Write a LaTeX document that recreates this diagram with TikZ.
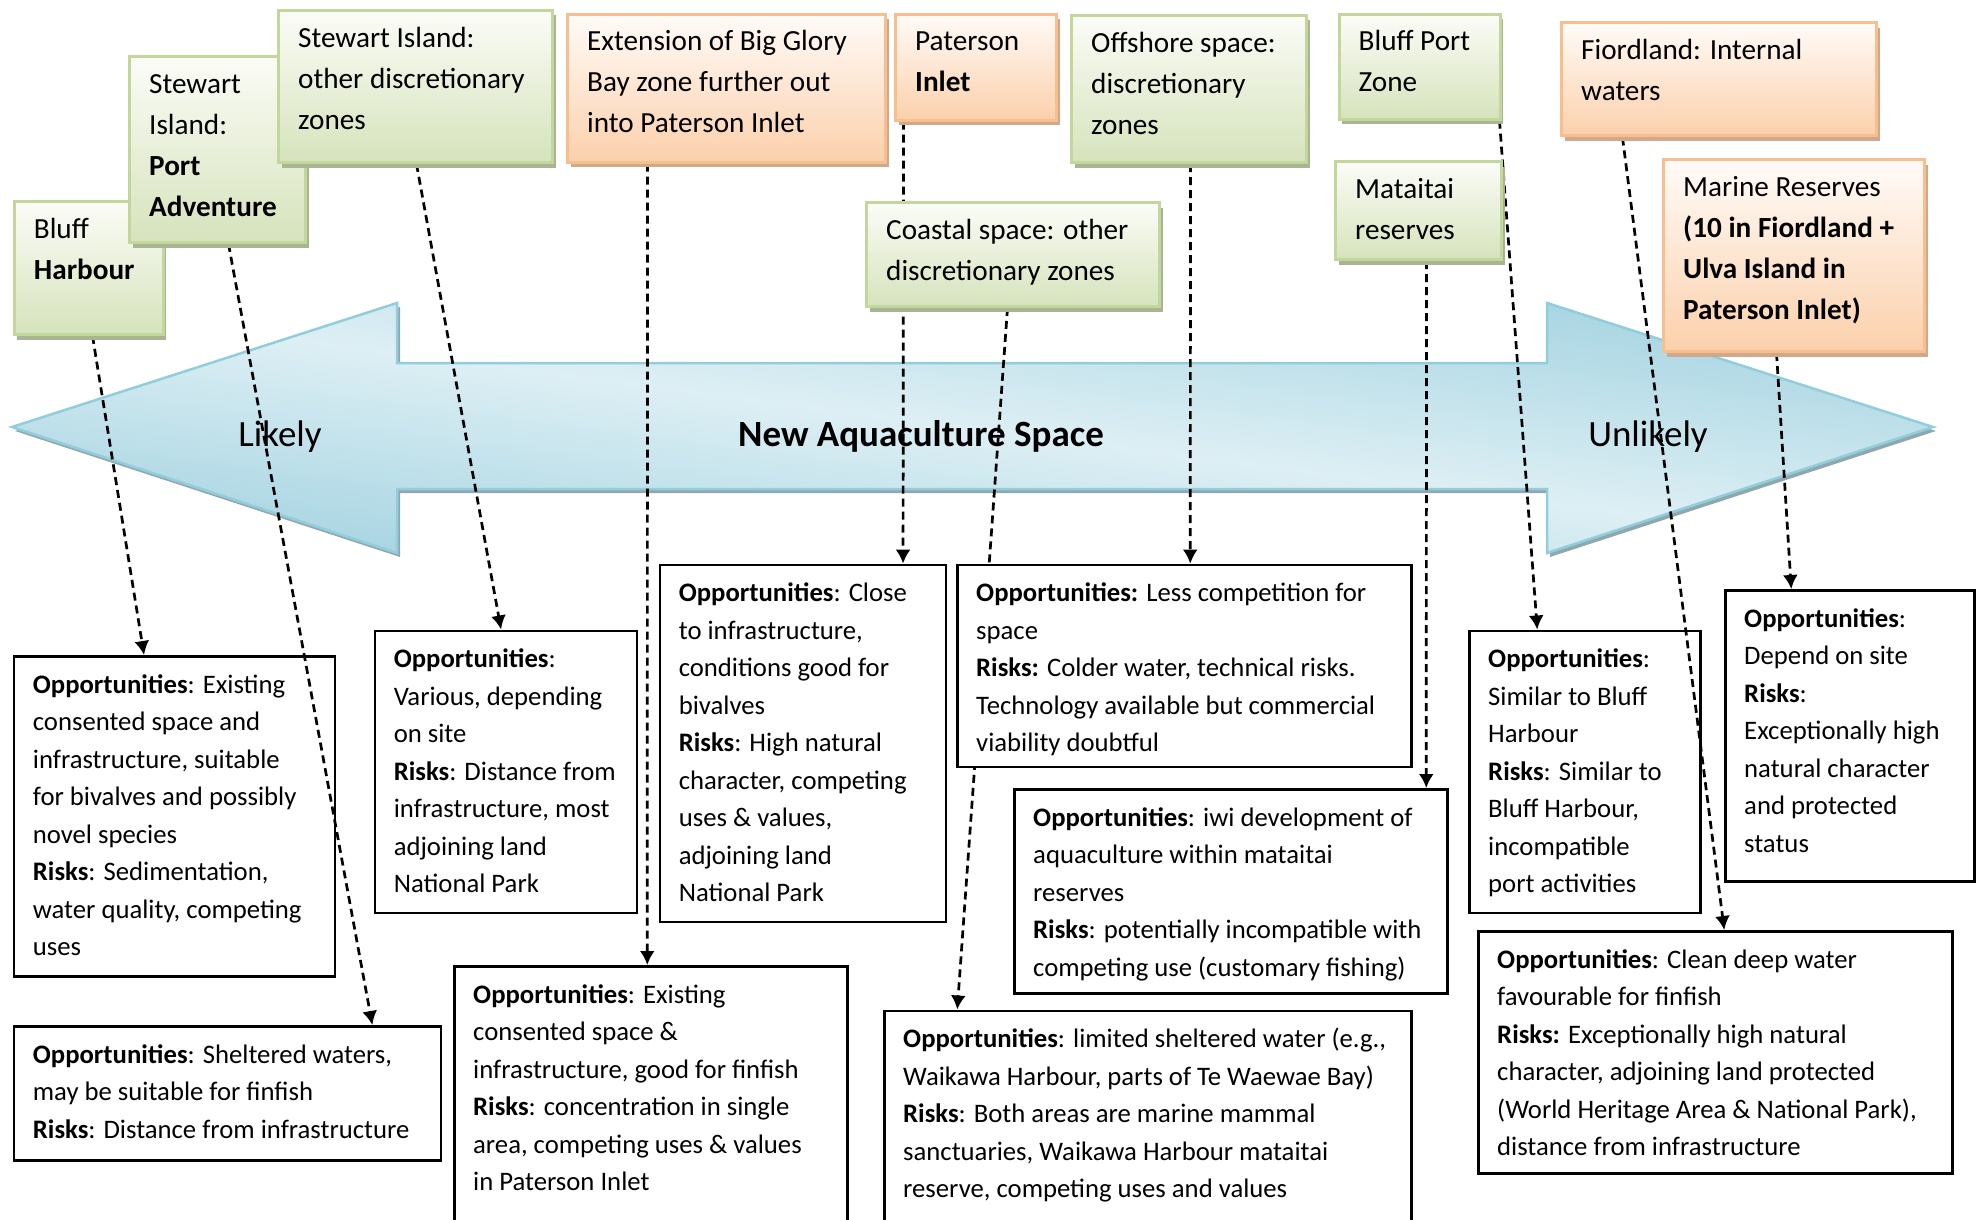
\documentclass[tikz,border=0pt]{standalone}
\usepackage{fontspec}
\setmainfont{Carlito}
\usetikzlibrary{arrows.meta,shadows}
\definecolor{grtop}{HTML}{FBFCF7}
\definecolor{grbot}{HTML}{D6E3BC}
\definecolor{grline}{HTML}{C3D69B}
\definecolor{grshadow}{HTML}{A8B592}
\definecolor{ortop}{HTML}{FFFBF8}
\definecolor{orbot}{HTML}{FBD0AB}
\definecolor{orline}{HTML}{F9BE8E}
\definecolor{orshadow}{HTML}{CFA98C}
\definecolor{arrlight}{HTML}{DDEFF4}
\definecolor{arrdark}{HTML}{9CCFDE}
\definecolor{arrline}{HTML}{92CDDC}
\definecolor{arrshadow}{HTML}{8FA8AF}
\pgfdeclarelayer{bg}
\pgfdeclarelayer{low}
\pgfdeclarelayer{conn}
\pgfdeclarelayer{mid}
\pgfsetlayers{bg,low,conn,mid,main}
\newcommand{\mybs}{\rule[-11pt]{0pt}{37.5pt}}
\newcommand{\myts}{\rule[-12pt]{0pt}{41pt}}
\begin{document}
\begin{tikzpicture}[x=1pt,y=-1pt,
  gbox/.style={draw=grline, line width=3pt, top color=grtop, bottom color=grbot, inner sep=0pt, anchor=north west,
    drop shadow={shadow xshift=3pt, shadow yshift=-5pt, fill=grshadow, opacity=1}},
  obox/.style={draw=orline, line width=3pt, top color=ortop, bottom color=orbot, inner sep=0pt, anchor=north west,
    drop shadow={shadow xshift=3pt, shadow yshift=-5pt, fill=orshadow, opacity=1}},
  bbox/.style={draw=black, line width=2.5pt, fill=white, inner sep=0pt, anchor=north west},
  ttext/.style={anchor=north west, inner sep=0pt, align=left, font=\fontsize{29.2}{41}\selectfont},
  btext/.style={anchor=north west, inner sep=0pt, align=left, font=\fontsize{26.7}{37.5}\selectfont},
  conn/.style={draw=black, line width=2.7pt, dash pattern=on 8pt off 5pt, -{Latex[length=14pt,width=15pt]}},
  alabel/.style={anchor=base, font=\fontsize{37}{44}\selectfont}
]
\useasboundingbox (0,0) rectangle (1986,1220);

% ---------- big double arrow ----------
\begin{pgfonlayer}{bg}
\path[fill=arrshadow, shift={(3,4)}] (12,427) -- (397,303) -- (397,363) -- (1547,363) -- (1547,303) -- (1933,427)
  -- (1547,553) -- (1547,489) -- (397,489) -- (397,553) -- cycle;
\begin{scope}
\clip (12,427) -- (397,303) -- (397,363) -- (1547,363) -- (1547,303) -- (1933,427)
  -- (1547,553) -- (1547,489) -- (397,489) -- (397,553) -- cycle;
\begin{scope}[transform canvas={cm={9.605,-1.25,9.605,1.25,(972.5pt,-428pt)}}]
\shade[top color=arrdark, bottom color=arrdark, middle color=arrlight] (-150pt,-100pt) rectangle (150pt,100pt);
\end{scope}
\end{scope}
\path[draw=arrline, line width=2.5pt]
  (12,427) -- (397,303) -- (397,363) -- (1547,363) -- (1547,303) -- (1933,427)
  -- (1547,553) -- (1547,489) -- (397,489) -- (397,553) -- cycle;
\node[alabel] (lLikely) at (280,446) {Likely};
\node[alabel] (lNew) at (921,446) {\textbf{New Aquaculture Space}};
\node[alabel] (lUnlikely) at (1648,446) {Unlikely};
\end{pgfonlayer}

% ---------- bottom boxes ----------
\begin{pgfonlayer}{low}
\node[bbox, minimum width=321, minimum height=320] (bBH) at (12.7,655) {};
\node[btext] (yBH) at ([shift={(20,11.5)}]bBH.north west) {\mybs\textbf{Opportunities}: Existing\\consented space and\\infrastructure, suitable\\for bivalves and possibly\\novel species\\\textbf{Risks}: Sedimentation,\\water quality, competing\\uses};
\node[bbox, minimum width=427, minimum height=134] (bPA) at (12.7,1025) {};
\node[btext] (yPA) at ([shift={(20,11.5)}]bPA.north west) {\mybs\textbf{Opportunities}: Sheltered waters,\\may be suitable for finfish\\\textbf{Risks}: Distance from infrastructure};
\node[bbox, minimum width=262, minimum height=282] (bSO) at (373.6,629.5) {};
\node[btext] (ySO) at ([shift={(20,11.5)}]bSO.north west) {\mybs\textbf{Opportunities}:\\Various, depending\\on site\\\textbf{Risks}: Distance from\\infrastructure, most\\adjoining land\\National Park};
\node[bbox, minimum width=393, minimum height=270] (bEX) at (453,965) {};
\node[btext] (yEX) at ([shift={(20,11.5)}]bEX.north west) {\mybs\textbf{Opportunities}: Existing\\consented space \&\\infrastructure, good for finfish\\\textbf{Risks}: concentration in single\\area, competing uses \& values\\in Paterson Inlet};
\node[bbox, minimum width=286, minimum height=357] (bPI) at (658.6,563.6) {};
\node[btext] (yPI) at ([shift={(20,11.5)}]bPI.north west) {\mybs\textbf{Opportunities}: Close\\to infrastructure,\\conditions good for\\bivalves\\\textbf{Risks}: High natural\\character, competing\\uses \& values,\\adjoining land\\National Park};
\node[bbox, minimum width=433, minimum height=204] (bMT) at (1013,788) {};
\node[btext] (yMT) at ([shift={(20,11.5)}]bMT.north west) {\mybs\textbf{Opportunities}: iwi development of\\aquaculture within mataitai\\reserves\\\textbf{Risks}: potentially incompatible with\\competing use (customary fishing)};
\node[bbox, minimum width=527, minimum height=225] (bCS) at (883,1009.5) {};
\node[btext] (yCS) at ([shift={(20,11.5)}]bCS.north west) {\mybs\textbf{Opportunities}: limited sheltered water (e.g.,\\Waikawa Harbour, parts of Te Waewae Bay)\\\textbf{Risks}: Both areas are marine mammal\\sanctuaries, Waikawa Harbour mataitai\\reserve, competing uses and values};
\node[bbox, minimum width=231, minimum height=282] (bBP) at (1468,629.5) {};
\node[btext] (yBP) at ([shift={(20,11.5)}]bBP.north west) {\mybs\textbf{Opportunities}:\\Similar to Bluff\\Harbour\\\textbf{Risks}: Similar to\\Bluff Harbour,\\incompatible\\port activities};
\node[bbox, minimum width=249, minimum height=291] (bMR) at (1724,589) {};
\node[btext] (yMR) at ([shift={(20,11.5)}]bMR.north west) {\mybs\textbf{Opportunities}:\\Depend on site\\\textbf{Risks}:\\Exceptionally high\\natural character\\and protected\\status};
\node[bbox, minimum width=474, minimum height=242] (bFI) at (1477,930) {};
\node[btext] (yFI) at ([shift={(20,11.5)}]bFI.north west) {\mybs\textbf{Opportunities}: Clean deep water\\favourable for finfish\\\textbf{Risks:} Exceptionally high natural\\character, adjoining land protected\\(World Heritage Area \& National Park),\\distance from infrastructure};
\end{pgfonlayer}

\begin{pgfonlayer}{mid}
\node[bbox, minimum width=454, minimum height=202] (bOS) at (956,563.6) {};
\node[btext] (yOS) at ([shift={(20,11.5)}]bOS.north west) {\mybs\textbf{Opportunities:} Less competition for\\space\\\textbf{Risks:} Colder water, technical risks.\\Technology available but commercial\\viability doubtful};
\end{pgfonlayer}

% ---------- top boxes ----------
\node[gbox, minimum width=149, minimum height=133] (tBH) at (12.7,200) {};
\node[ttext] (xBH) at ([shift={(21,9)}]tBH.north west) {\myts Bluff\\\textbf{Harbour}};
\node[gbox, minimum width=176, minimum height=186] (tPA) at (128,55) {};
\node[ttext] (xPA) at ([shift={(21,9)}]tPA.north west) {\myts Stewart\\Island:\\\textbf{Port}\\\textbf{Adventure}};
\node[gbox, minimum width=274, minimum height=152] (tSO) at (277,9) {};
\node[ttext] (xSO) at ([shift={(21,9)}]tSO.north west) {\myts Stewart Island:\\other discretionary\\zones};
\node[obox, minimum width=318, minimum height=148] (tEX) at (566,12.7) {};
\node[ttext] (xEX) at ([shift={(21,9)}]tEX.north west) {\myts Extension of Big Glory\\Bay zone further out\\into Paterson Inlet};
\node[obox, minimum width=161, minimum height=106] (tPI) at (894,12.7) {};
\node[ttext] (xPI) at ([shift={(21,9)}]tPI.north west) {\myts Paterson\\\textbf{Inlet}};
\node[gbox, minimum width=235, minimum height=147] (tOS) at (1070,14) {};
\node[ttext] (xOS) at ([shift={(21,9)}]tOS.north west) {\myts Offshore space:\\discretionary\\zones};
\node[gbox, minimum width=293, minimum height=104] (tCS) at (865,201) {};
\node[ttext] (xCS) at ([shift={(21,9)}]tCS.north west) {\myts Coastal space: other\\discretionary zones};
\node[gbox, minimum width=161, minimum height=105] (tBP) at (1337.5,12.7) {};
\node[ttext] (xBP) at ([shift={(21,9)}]tBP.north west) {\myts Bluff Port\\Zone};
\node[gbox, minimum width=166, minimum height=98] (tMT) at (1334,160) {};
\node[ttext] (xMT) at ([shift={(21,9)}]tMT.north west) {\myts Mataitai\\reserves};
\node[obox, minimum width=315, minimum height=113] (tFI) at (1560,21.5) {};
\node[ttext] (xFI) at ([shift={(21,9)}]tFI.north west) {\myts Fiordland: Internal\\waters};
\node[obox, minimum width=261, minimum height=192] (tMR) at (1662,158) {};
\node[ttext] (xMR) at ([shift={(21,9)}]tMR.north west) {\myts Marine Reserves\\\textbf{(10 in Fiordland +}\\\textbf{Ulva Island in}\\\textbf{Paterson Inlet)}};

% ---------- connectors ----------
\begin{pgfonlayer}{conn}
\draw[conn] ([xshift=3.8pt]tBH.south) -- ([xshift=-30.4pt]bBH.north);
\draw[conn] ([xshift=11pt]tPA.south) -- ([xshift=144.9pt]bPA.north);
\draw[conn] ([xshift=1pt]tSO.south) -- ([xshift=-4.8pt]bSO.north);
\draw[conn] ([xshift=-79pt]tEX.south) -- ([xshift=-3.5pt]bEX.north);
\draw[conn] ([xshift=-72.5pt]tPI.south) -- ([xshift=100.2pt]bPI.north);
\draw[conn] ([xshift=1.5pt]tOS.south) -- ([xshift=6pt]bOS.north);
\draw[conn] ([xshift=-5.5pt]tCS.south) -- ([xshift=-190.5pt]bCS.north);
\draw[conn] ([xshift=80pt]tBP.south) -- ([xshift=-47.5pt]bBP.north);
\draw[conn] ([xshift=8pt]tMT.south) -- ([xshift=195.5pt]bMT.north);
\draw[conn] ([xshift=-96.5pt]tFI.south) -- ([xshift=9pt]bFI.north);
\draw[conn] ([xshift=-17.5pt]tMR.south) -- ([xshift=-58.5pt]bMR.north);
\end{pgfonlayer}
\end{tikzpicture}
\end{document}
